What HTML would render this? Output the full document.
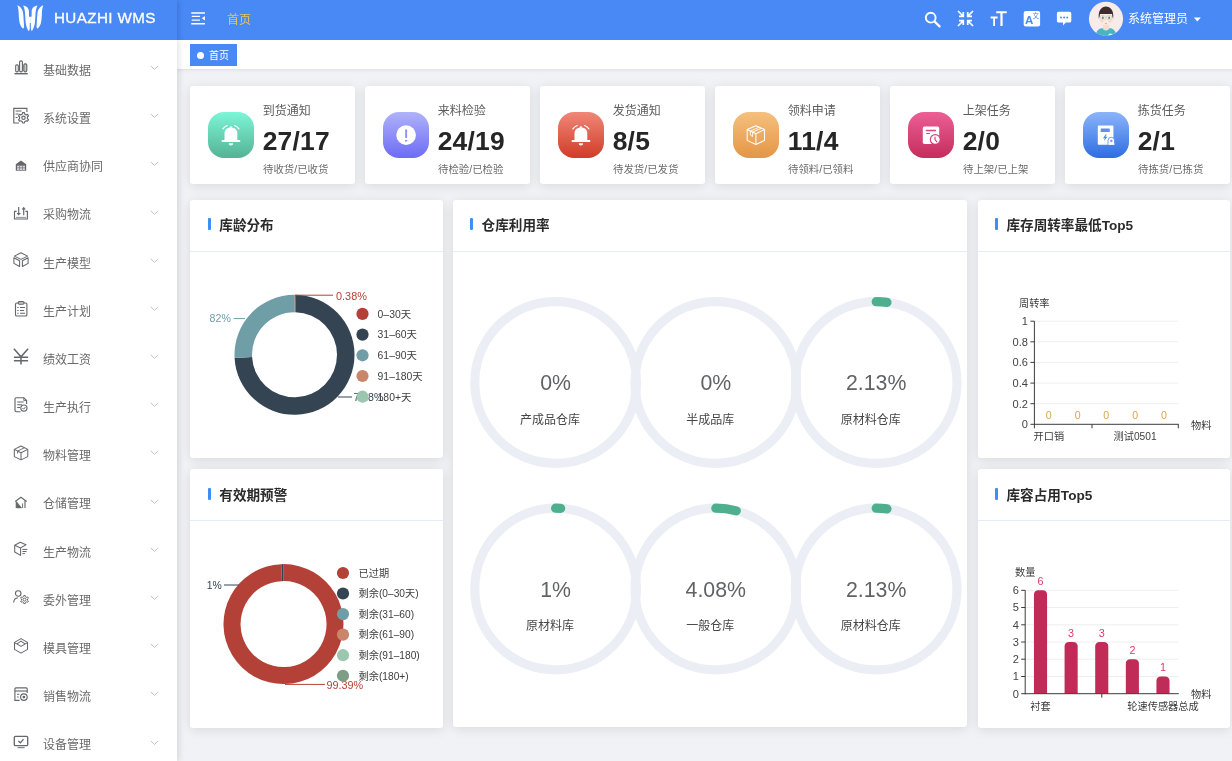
<!DOCTYPE html>
<html lang="zh-CN"><head><meta charset="utf-8"><title>HUAZHI WMS</title>
<style>
*{box-sizing:border-box;margin:0;padding:0}
html,body{width:1232px;height:761px;overflow:hidden;background:#f0f2f5;font-family:"Liberation Sans", "Noto Sans CJK SC", sans-serif;}
body{position:relative}
.abs{position:absolute}
#hdr{position:absolute;left:0;top:0;width:1232px;height:40px;background:#4989f6}
#logo{position:absolute;left:0;top:0;width:177px;height:40px;background:#4989f6;box-shadow:2px 0 5px rgba(0,25,80,.16);z-index:5;clip-path:inset(0 -12px 0 0)}
#logo .t{position:absolute;left:54px;top:0;height:40px;line-height:36px;color:#fff;font-weight:normal;-webkit-text-stroke:0.32px #fff;font-size:15.2px;letter-spacing:0.4px;white-space:nowrap}
#side{position:absolute;left:0;top:40px;width:177px;height:721px;background:#fff;box-shadow:2px 0 6px rgba(0,21,41,.12);z-index:4}
.mi{position:absolute;left:0;width:177px;height:48px;z-index:6}
.mi .tx{position:absolute;left:43px;top:0;line-height:20px;font-size:12px;color:#6a6a6a;white-space:nowrap}
.mi svg.ic{position:absolute;left:12px;top:0}
.mi svg.ch{position:absolute;left:150px;top:4.2px}
#tags{position:absolute;left:177px;top:40px;width:1055px;height:30px;background:#fff;border-bottom:1px solid #e2e4ea;box-shadow:0 1px 3px rgba(0,0,0,.05)}
#tag{position:absolute;left:189.8px;top:44px;width:47.4px;height:21.8px;background:#4989f6;color:#fff;font-size:10px;line-height:22px;white-space:nowrap}
#tag i{position:absolute;left:7.5px;top:8.2px;width:7px;height:7px;border-radius:50%;background:#fff}
#tag span{position:absolute;left:19.2px;top:1.3px}
.card{position:absolute;background:#fff;border-radius:3px;box-shadow:0 2px 12px rgba(0,0,0,.1)}
.sc{width:165px;height:98.3px;top:85.8px}
.sc .ib{position:absolute;left:17.6px;top:26px;width:46px;height:46px;border-radius:16px;overflow:hidden}
.sc .t1{position:absolute;left:72.3px;top:15.8px;font-size:12px;line-height:18px;color:#5d5d5d;white-space:nowrap}
.sc .t2{position:absolute;left:72.3px;top:40.2px;font-size:26.4px;line-height:30px;font-weight:bold;color:#262626;white-space:nowrap;letter-spacing:0.25px}
.sc .t3{position:absolute;left:72.7px;top:77.2px;font-size:10.4px;line-height:14px;color:#6b6b6b;white-space:nowrap}
.ct{position:absolute;left:0;top:0;right:0;height:52px;border-bottom:1px solid #e6ebf5}
.ct i{position:absolute;left:17.6px;top:18.9px;width:3.1px;height:11.9px;background:#3d8ef7;border-radius:1px}
.ct span{position:absolute;left:29.3px;top:16.5px;font-size:13.6px;line-height:20px;font-weight:bold;color:#2b2b2b;white-space:nowrap}
svg text{font-family:"Liberation Sans", "Noto Sans CJK SC", sans-serif}
</style></head>
<body>
<div id="hdr"></div>
<div id="logo">
<svg class="abs" style="left:0;top:0" width="60" height="40" viewBox="0 0 60 40">
<g fill="#fff"><g transform="translate(30.3 0)"><path d="M-13 5.2 C-11 5.9 -8 8.2 -7.3 12 L-6.9 16 L-6.5 22 L-6.2 27 L-7 28.8 C-9 27.5 -10.6 24.5 -11 21 L-11.5 16 C-11.6 11.5 -11.8 8 -13 5.2Z"/><path d="M-7.2 5.5 C-4.6 5.7 -1.6 7.6 -1.4 11 L-1.3 16.8 L0.1 16.8 L0.1 23.1 L-0.5 23.1 L-0.6 29 L-1.4 31.2 C-3 29.5 -4.6 25 -4.8 21 L-5.1 15.8 C-5.3 11.5 -5.6 8.5 -7.2 5.5Z"/></g><g transform="translate(30.3 0) scale(-1 1)"><path d="M-13 5.2 C-11 5.9 -8 8.2 -7.3 12 L-6.9 16 L-6.5 22 L-6.2 27 L-7 28.8 C-9 27.5 -10.6 24.5 -11 21 L-11.5 16 C-11.6 11.5 -11.8 8 -13 5.2Z"/><path d="M-7.2 5.5 C-4.6 5.7 -1.6 7.6 -1.4 11 L-1.3 16.8 L0.1 16.8 L0.1 23.1 L-0.5 23.1 L-0.6 29 L-1.4 31.2 C-3 29.5 -4.6 25 -4.8 21 L-5.1 15.8 C-5.3 11.5 -5.6 8.5 -7.2 5.5Z"/></g></g></svg>
<div class="t">HUAZHI WMS</div></div>
<svg class="abs" style="left:191px;top:12px" width="15" height="13" viewBox="0 0 15 13">
<g fill="#fff"><rect x="0.2" y="0.2" width="13.8" height="1.6" rx="0.3"/><rect x="0.7" y="3.85" width="8.3" height="1.2" rx="0.3"/><rect x="0.7" y="7.55" width="8.3" height="1.2" rx="0.3"/><rect x="0.2" y="11" width="13.8" height="1.4" rx="0.3"/><path d="M13.9 4 L13.9 8.6 L10.8 6.3Z"/></g></svg>
<div class="abs" style="left:227px;top:9.8px;font-size:12px;line-height:20px;color:#e6c560;white-space:nowrap">首页</div>
<svg class="abs" style="left:924px;top:11px" width="18" height="17" viewBox="0 0 18 17"><circle cx="6.7" cy="6.7" r="4.9" fill="none" stroke="#fff" stroke-width="1.9"/><path d="M10.4 10.4 L15.6 15.4" stroke="#fff" stroke-width="2.2" stroke-linecap="round"/></svg>
<svg class="abs" style="left:957px;top:10px" width="17" height="17" viewBox="0 0 17 17"><g fill="none" stroke="#fff" stroke-width="1.7">
<path d="M1 1 L6 6 M6.3 2 L6.3 6.3 L2 6.3"/><path d="M16 1 L11 6 M10.7 2 L10.7 6.3 L15 6.3"/><path d="M1 16 L6 11 M6.3 15 L6.3 10.7 L2 10.7"/><path d="M16 16 L11 11 M10.7 15 L10.7 10.7 L15 10.7"/></g></svg>
<svg class="abs" style="left:990px;top:10px" width="18" height="17" viewBox="0 0 18 17"><g fill="#fff">
<path d="M6.2 1.2 H16.8 V3.3 H12.6 V16 H10.4 V3.3 H6.2Z"/><path d="M0.6 6.6 H7.6 V8.4 H5 V16 H3.2 V8.4 H0.6Z"/></g></svg>
<svg class="abs" style="left:1023px;top:10px" width="18" height="18" viewBox="0 0 18 18"><rect x="0.7" y="1" width="16.4" height="15.6" rx="2" fill="#fff"/>
<text x="2" y="14" font-size="11.5" font-weight="bold" fill="#4989f6">A</text><text x="9.6" y="8.2" font-size="6.5" fill="#4989f6">文</text></svg>
<svg class="abs" style="left:1056px;top:11px" width="17" height="16" viewBox="0 0 17 16"><path d="M2.6 0.7 H13.6 Q15.3 0.7 15.3 2.4 V9.9 Q15.3 11.6 13.6 11.6 H9.8 L7 14.4 L7 11.6 H2.6 Q0.9 11.6 0.9 9.9 V2.4 Q0.9 0.7 2.6 0.7Z" fill="#fff"/>
<g fill="#4989f6"><circle cx="5" cy="6.6" r="1"/><circle cx="8.1" cy="6.6" r="1"/><circle cx="11.2" cy="6.6" r="1"/></g></svg>
<svg class="abs" style="left:1088px;top:1px" width="36" height="36" viewBox="0 0 36 36">
<defs><clipPath id="av"><circle cx="18" cy="17.8" r="17.1"/></clipPath></defs>
<circle cx="18" cy="17.8" r="17.1" fill="#f8ecea"/>
<g clip-path="url(#av)">
<path d="M7.4 36 C7.6 29.6 11.5 27 15 26.9 H21 C24.5 27 28.4 29.6 28.6 36Z" fill="#49b4c2"/>
<path d="M15.1 22.5 H20.9 V27 C20.2 29.4 15.8 29.4 15.1 27Z" fill="#f9dccd"/>
<path d="M15.1 26.9 C16 29 20 29 20.9 26.9 L21.6 27.1 C20.6 30.2 15.4 30.2 14.4 27.1Z" fill="#f4f4f2"/>
<ellipse cx="18" cy="17.6" rx="6.3" ry="6.7" fill="#fbeae0"/>
<ellipse cx="11.7" cy="18.6" rx="1" ry="1.5" fill="#fbe3d6"/><ellipse cx="24.3" cy="18.6" rx="1" ry="1.5" fill="#fbe3d6"/>
<path d="M10.8 17.4 C10 9.5 13.6 5.6 18 5.6 C22.4 5.6 26 9.5 25.2 17.4 C24.6 16.6 24.2 14.8 24.1 12.9 H11.9 C11.8 14.8 11.4 16.6 10.8 17.4Z" fill="#3f2d2d"/>
<ellipse cx="13.8" cy="20.4" rx="1.5" ry="1" fill="#f6c9c0" opacity="0.7"/><ellipse cx="22.2" cy="20.4" rx="1.5" ry="1" fill="#f6c9c0" opacity="0.7"/>
<g fill="#f4f5ee" stroke="#b9bdb0" stroke-width="0.5"><rect x="12.3" y="14.6" width="4.9" height="4.2" rx="1.3"/><rect x="18.8" y="14.6" width="4.9" height="4.2" rx="1.3"/></g>
<path d="M17.2 16.2 H18.8" stroke="#b9bdb0" stroke-width="0.5"/>
<rect x="13.8" y="15.6" width="2" height="2.4" rx="0.8" fill="#6d675c" opacity="0.8"/><rect x="20.2" y="15.6" width="2" height="2.4" rx="0.8" fill="#6d675c" opacity="0.8"/>
<path d="M16.9 22.4 Q18 23.3 19.1 22.4" stroke="#e79f98" stroke-width="0.9" fill="none"/>
<rect x="20.6" y="32.8" width="3.6" height="1.2" rx="0.5" fill="#e9f7f8"/>
</g></svg>
<div class="abs" style="left:1128px;top:8.7px;font-size:12px;line-height:20px;color:#fff;white-space:nowrap">系统管理员</div>
<svg class="abs" style="left:1193px;top:17px" width="9" height="5" viewBox="0 0 9 5"><path d="M0.8 0.6 H7.8 L4.3 4.4Z" fill="#fff"/></svg>
<div id="side"></div>
<div class="mi" style="top:60.95px"><svg class="ic" width="19" height="20" viewBox="0 0 19 20" style="top:-4.15px"><g fill="none" stroke="#65676b" stroke-width="1.15"><rect x="3.7" y="7.8" width="2.6" height="7" rx="1"/><rect x="7.6" y="3.8" width="2.8" height="11" rx="1.3"/><rect x="11.8" y="6.8" width="3" height="8" rx="1.2" fill="#c4c5c8"/><path d="M2.4 16.7 H15.8" stroke-width="1.4"/></g></svg><div class="tx">基础数据</div><svg class="ch" width="9" height="6" viewBox="0 0 9 6"><path d="M0.8 0.9 L4.5 4.5 L8.2 0.9" fill="none" stroke="#b9bcc4" stroke-width="0.9"/></svg></div>
<div class="mi" style="top:109.12px"><svg class="ic" width="19" height="20" viewBox="0 0 19 20" style="top:-4.17px"><g fill="none" stroke="#65676b" stroke-width="1.15"><path d="M14.9 7 V3.3 H1.8 V18 H7"/><path d="M3.6 6 H9.6 M3.6 9 H6.4 M3.6 12.4 H5.6" stroke-width="1.05"/><path d="M10.35 8.97 L10.56 7.58 L12.44 7.58 L12.65 8.97 L14.24 9.89 L15.55 9.38 L16.49 11.01 L15.39 11.88 L15.39 13.72 L16.49 14.59 L15.55 16.22 L14.24 15.71 L12.65 16.63 L12.44 18.02 L10.56 18.02 L10.35 16.63 L8.76 15.71 L7.45 16.22 L6.51 14.59 L7.61 13.72 L7.61 11.88 L6.51 11.01 L7.45 9.38 L8.76 9.89Z" stroke-linejoin="round"/><circle cx="11.5" cy="12.8" r="1.7"/></g></svg><div class="tx">系统设置</div><svg class="ch" width="9" height="6" viewBox="0 0 9 6"><path d="M0.8 0.9 L4.5 4.5 L8.2 0.9" fill="none" stroke="#b9bcc4" stroke-width="0.9"/></svg></div>
<div class="mi" style="top:157.29px"><svg class="ic" width="19" height="20" viewBox="0 0 19 20" style="top:-4.19px"><g fill="#65676b"><path d="M8.95 7.6 L14.2 11.3 V17.7 H3.8 V11.3Z M5.1 12.2 V17.7 H12.9 V12.2Z" fill-rule="evenodd"/><path d="M5.1 12.2 H12.9 V13 H5.1Z M5.1 14.5 H12.9 V15.2 H5.1Z M5.1 16.9 H12.9 V17.7 H5.1Z M7.3 12.2 H8 V17.7 H7.3Z M10 12.2 H10.7 V17.7 H10Z" opacity="0.85"/><path d="M5.1 12.2 H12.9 V17.7 H5.1Z" opacity="0.28"/></g></svg><div class="tx">供应商协同</div><svg class="ch" width="9" height="6" viewBox="0 0 9 6"><path d="M0.8 0.9 L4.5 4.5 L8.2 0.9" fill="none" stroke="#b9bcc4" stroke-width="0.9"/></svg></div>
<div class="mi" style="top:205.46px"><svg class="ic" width="19" height="20" viewBox="0 0 19 20" style="top:-4.21px"><g fill="none" stroke="#65676b" stroke-width="1.15"><path d="M4.6 10.3 H2.5 V18 H15.4 V10.3 H13.4"/><path d="M4 16.4 H14" stroke-width="0.9" opacity="0.8"/><path d="M6.7 6 V12.5 M11.7 14.2 V8"/><path d="M4.5 12 H8.9 L6.7 14.6Z M9.6 8.4 H13.8 L11.7 5.8Z" fill="#65676b" stroke="none"/></g></svg><div class="tx">采购物流</div><svg class="ch" width="9" height="6" viewBox="0 0 9 6"><path d="M0.8 0.9 L4.5 4.5 L8.2 0.9" fill="none" stroke="#b9bcc4" stroke-width="0.9"/></svg></div>
<div class="mi" style="top:253.63px"><svg class="ic" width="19" height="20" viewBox="0 0 19 20" style="top:-4.23px"><g fill="none" stroke="#65676b" stroke-width="1.05" stroke-linejoin="round"><path d="M9 3.7 L15.6 7.1 L9 10.4 L2.4 7.1Z"/><path d="M1.9 8.7 L7.6 11.7 V17.5 L1.9 14.4Z"/><path d="M10.4 11.7 L16.1 8.7 V14.4 L10.4 17.5Z"/></g></svg><div class="tx">生产模型</div><svg class="ch" width="9" height="6" viewBox="0 0 9 6"><path d="M0.8 0.9 L4.5 4.5 L8.2 0.9" fill="none" stroke="#b9bcc4" stroke-width="0.9"/></svg></div>
<div class="mi" style="top:301.80px"><svg class="ic" width="19" height="20" viewBox="0 0 19 20" style="top:-4.25px"><g fill="none" stroke="#65676b" stroke-width="1.15"><rect x="3.5" y="5" width="11.4" height="13" rx="1.3"/><rect x="6.2" y="3.6" width="5.8" height="2.6" rx="1.1" fill="#cfd0d2"/><path d="M8 9.4 H13 M8 12.4 H12 M8 15.2 H13" stroke-width="1.05"/><path d="M5.3 9.4 H6.6 M5.3 12.4 H6.6 M5.3 15.2 H6.6" stroke-width="1.05"/></g></svg><div class="tx">生产计划</div><svg class="ch" width="9" height="6" viewBox="0 0 9 6"><path d="M0.8 0.9 L4.5 4.5 L8.2 0.9" fill="none" stroke="#b9bcc4" stroke-width="0.9"/></svg></div>
<div class="mi" style="top:349.97px"><svg class="ic" width="19" height="20" viewBox="0 0 19 20" style="top:-4.27px"><g fill="none" stroke="#65676b" stroke-width="1.5"><path d="M1.9 2.8 L9 10.8 L16.1 2.8 M9 10.8 V18.6 M1.9 11.3 H16.1 M1.9 14.7 H16.1"/></g></svg><div class="tx">绩效工资</div><svg class="ch" width="9" height="6" viewBox="0 0 9 6"><path d="M0.8 0.9 L4.5 4.5 L8.2 0.9" fill="none" stroke="#b9bcc4" stroke-width="0.9"/></svg></div>
<div class="mi" style="top:398.14px"><svg class="ic" width="19" height="20" viewBox="0 0 19 20" style="top:-4.29px"><g fill="none" stroke="#65676b" stroke-width="1.15"><path d="M14.6 10 V6.6 L11.8 3.7 H4.4 Q3 3.7 3 5.1 V16.3 Q3 17.7 4.4 17.7 H8.6"/><path d="M11.8 3.7 V6.6 H14.6" stroke-width="0.9"/><path d="M5.2 8 H11.6 M5.2 10.7 H10 M5.2 13.4 H8" stroke-width="1.05"/><circle cx="11.9" cy="14.1" r="3.1"/><path d="M10.5 14.1 L11.6 15.2 L13.4 13.1" stroke-width="1"/></g></svg><div class="tx">生产执行</div><svg class="ch" width="9" height="6" viewBox="0 0 9 6"><path d="M0.8 0.9 L4.5 4.5 L8.2 0.9" fill="none" stroke="#b9bcc4" stroke-width="0.9"/></svg></div>
<div class="mi" style="top:446.31px"><svg class="ic" width="19" height="20" viewBox="0 0 19 20" style="top:-4.31px"><g fill="none" stroke="#65676b" stroke-width="1.05" stroke-linejoin="round"><path d="M9 4 L15.8 7.4 V14.6 L9 17.9 L2.3 14.6 V7.4Z"/><path d="M2.3 7.4 L9 10.8 L15.8 7.4 M9 10.8 V17.9"/><path d="M12.6 5.7 L5.6 9.1 V11.6" stroke-width="0.95"/></g></svg><div class="tx">物料管理</div><svg class="ch" width="9" height="6" viewBox="0 0 9 6"><path d="M0.8 0.9 L4.5 4.5 L8.2 0.9" fill="none" stroke="#b9bcc4" stroke-width="0.9"/></svg></div>
<div class="mi" style="top:494.48px"><svg class="ic" width="19" height="20" viewBox="0 0 19 20" style="top:-4.33px"><g fill="none" stroke="#65676b" stroke-width="1.15"><path d="M3.2 11.5 L8.9 7.3 L14.7 11.5" stroke-linejoin="round"/><path d="M13 10.6 V18.1"/><path d="M4.3 11.5 V18"/><path d="M4.6 11.8 L9.6 17.9 H4.6Z" fill="#65676b" stroke-width="0.6"/><path d="M10.6 13.4 V18.1" stroke-width="0.9"/></g></svg><div class="tx">仓储管理</div><svg class="ch" width="9" height="6" viewBox="0 0 9 6"><path d="M0.8 0.9 L4.5 4.5 L8.2 0.9" fill="none" stroke="#b9bcc4" stroke-width="0.9"/></svg></div>
<div class="mi" style="top:542.65px"><svg class="ic" width="19" height="20" viewBox="0 0 19 20" style="top:-4.35px"><g fill="none" stroke="#65676b" stroke-width="1.05" stroke-linejoin="round"><path d="M8.3 4.3 L14 6.8 L8.6 9.9 L2.7 7.2Z"/><path d="M2.7 7.2 V14 L8.6 17.4 V9.9"/><path d="M10.4 11.4 H15.4 M10.4 13.5 H14.6 M10.4 15.6 H13" stroke-width="1"/></g></svg><div class="tx">生产物流</div><svg class="ch" width="9" height="6" viewBox="0 0 9 6"><path d="M0.8 0.9 L4.5 4.5 L8.2 0.9" fill="none" stroke="#b9bcc4" stroke-width="0.9"/></svg></div>
<div class="mi" style="top:590.82px"><svg class="ic" width="19" height="20" viewBox="0 0 19 20" style="top:-4.37px"><g fill="none" stroke="#65676b" stroke-width="1.1"><circle cx="6.2" cy="7.5" r="2.75"/><path d="M1.7 16.6 C1.8 13.4 3.4 11.9 6 11.7"/><path d="M11.61 10.63 L11.77 9.57 L13.23 9.57 L13.39 10.63 L14.62 11.34 L15.63 10.95 L16.36 12.21 L15.52 12.89 L15.52 14.31 L16.36 14.99 L15.63 16.25 L14.62 15.86 L13.39 16.57 L13.23 17.63 L11.77 17.63 L11.61 16.57 L10.38 15.86 L9.37 16.25 L8.64 14.99 L9.48 14.31 L9.48 12.89 L8.64 12.21 L9.37 10.95 L10.38 11.34Z" stroke-linejoin="round" stroke-width="1"/><circle cx="12.5" cy="13.6" r="1.5" stroke-width="1"/></g></svg><div class="tx">委外管理</div><svg class="ch" width="9" height="6" viewBox="0 0 9 6"><path d="M0.8 0.9 L4.5 4.5 L8.2 0.9" fill="none" stroke="#b9bcc4" stroke-width="0.9"/></svg></div>
<div class="mi" style="top:638.99px"><svg class="ic" width="19" height="20" viewBox="0 0 19 20" style="top:-4.39px"><g fill="none" stroke="#65676b" stroke-width="1.05" stroke-linejoin="round"><path d="M9 3.6 L15.5 7.4 V14.4 L9 18.1 L2.5 14.4 V7.4Z"/><path d="M2.6 7.6 L9 11.4 L15.4 7.6"/><path d="M5 8.9 L9 6.1 L13 8.9"/></g></svg><div class="tx">模具管理</div><svg class="ch" width="9" height="6" viewBox="0 0 9 6"><path d="M0.8 0.9 L4.5 4.5 L8.2 0.9" fill="none" stroke="#b9bcc4" stroke-width="0.9"/></svg></div>
<div class="mi" style="top:687.16px"><svg class="ic" width="19" height="20" viewBox="0 0 19 20" style="top:-4.41px"><g fill="none" stroke="#65676b" stroke-width="1.15"><path d="M15.2 10 V5.9 Q15.2 4.8 14.1 4.8 H4 Q2.9 4.8 2.9 5.9 V17.4 H7.6"/><path d="M2.9 8 H15.2"/><path d="M5 11.2 H7.4 M5 14 H6.6" stroke-width="1.05"/><circle cx="11.9" cy="14.1" r="3.3"/><circle cx="11.9" cy="14.1" r="1.4" fill="#65676b" stroke="none"/></g></svg><div class="tx">销售物流</div><svg class="ch" width="9" height="6" viewBox="0 0 9 6"><path d="M0.8 0.9 L4.5 4.5 L8.2 0.9" fill="none" stroke="#b9bcc4" stroke-width="0.9"/></svg></div>
<div class="mi" style="top:735.33px"><svg class="ic" width="19" height="20" viewBox="0 0 19 20" style="top:-4.43px"><g fill="none" stroke="#65676b" stroke-width="1.35"><rect x="2.3" y="5.4" width="13.4" height="9.2" rx="1.2"/><path d="M5.6 16.6 H12.6" stroke-width="1.2" opacity="0.8"/><path d="M6.3 10 L8.4 11.8 L11.5 8.2" stroke-width="1.3"/></g></svg><div class="tx">设备管理</div><svg class="ch" width="9" height="6" viewBox="0 0 9 6"><path d="M0.8 0.9 L4.5 4.5 L8.2 0.9" fill="none" stroke="#b9bcc4" stroke-width="0.9"/></svg></div>
<div id="tags"></div>
<div id="tag"><i></i><span>首页</span></div>
<div class="card sc" style="left:190.4px"><div class="ib" style="background:linear-gradient(180deg,#7df5d7 0%,#54b394 100%)"><svg class="abs" style="left:0;top:0" width="46" height="46" viewBox="0 0 46 46"><g fill="#fff"><path d="M16.5 28.3 V21.6 C16.5 17.6 19.4 15.6 22.9 15.6 C26.4 15.6 29.3 17.6 29.3 21.6 V28.3Z"/><circle cx="22.9" cy="15.3" r="1.1"/><rect x="13.7" y="28" width="18.5" height="2.1" rx="0.4"/><path d="M20.7 31.2 H25.1 A2.2 2.2 0 0 1 20.7 31.2Z"/></g><g fill="none" stroke="#fff" stroke-width="1.2" stroke-linecap="round"><path d="M14.9 16.9 Q16.6 14.6 19.2 13.5"/><path d="M30.9 16.9 Q29.2 14.6 26.6 13.5"/></g></svg></div><div class="t1">到货通知</div><div class="t2">27/17</div><div class="t3">待收货/已收货</div></div>
<div class="card sc" style="left:365.4px"><div class="ib" style="background:linear-gradient(180deg,#b0b2fa 0%,#6c6cf5 100%)"><svg class="abs" style="left:0;top:0" width="46" height="46" viewBox="0 0 46 46"><circle cx="23.1" cy="23.1" r="9.85" fill="#fff"/><rect x="22.2" y="17.3" width="1.9" height="8.8" rx="0.9" fill="#8f90f7"/><ellipse cx="23.15" cy="28.7" rx="1.25" ry="0.85" fill="#8f90f7"/></svg></div><div class="t1">来料检验</div><div class="t2">24/19</div><div class="t3">待检验/已检验</div></div>
<div class="card sc" style="left:540.4px"><div class="ib" style="background:linear-gradient(180deg,#f08778 0%,#d03c28 100%)"><svg class="abs" style="left:0;top:0" width="46" height="46" viewBox="0 0 46 46"><g fill="#fff"><path d="M16.5 28.3 V21.6 C16.5 17.6 19.4 15.6 22.9 15.6 C26.4 15.6 29.3 17.6 29.3 21.6 V28.3Z"/><circle cx="22.9" cy="15.3" r="1.1"/><rect x="13.7" y="28" width="18.5" height="2.1" rx="0.4"/><path d="M20.7 31.2 H25.1 A2.2 2.2 0 0 1 20.7 31.2Z"/></g><g fill="none" stroke="#fff" stroke-width="1.2" stroke-linecap="round"><path d="M14.9 16.9 Q16.6 14.6 19.2 13.5"/><path d="M30.9 16.9 Q29.2 14.6 26.6 13.5"/></g></svg></div><div class="t1">发货通知</div><div class="t2">8/5</div><div class="t3">待发货/已发货</div></div>
<div class="card sc" style="left:715.4px"><div class="ib" style="background:linear-gradient(180deg,#f5c07d 0%,#e49646 100%)"><svg class="abs" style="left:0;top:0" width="46" height="46" viewBox="0 0 46 46"><g fill="none" stroke="#fff" stroke-width="1.05" stroke-linejoin="round"><path d="M22.9 13.7 L31.5 17.5 V28.4 L22.9 32.5 L14.2 28.4 V17.5Z"/><path d="M14.2 17.5 L22.9 21.7 L31.5 17.5 M22.9 21.7 V32.5"/><path d="M26.2 15.2 L17.4 19.1 V23 M28.4 16.2 L19.6 20.2 V24.6 L17.4 23" stroke-width="0.9"/></g></svg></div><div class="t1">领料申请</div><div class="t2">11/4</div><div class="t3">待领料/已领料</div></div>
<div class="card sc" style="left:890.4px"><div class="ib" style="background:linear-gradient(180deg,#ec5f96 0%,#c42d5c 100%)"><svg class="abs" style="left:0;top:0" width="46" height="46" viewBox="0 0 46 46"><defs><mask id="mk1"><rect width="46" height="46" fill="#fff"/><circle cx="27.3" cy="27.5" r="5.5" fill="#000"/></mask></defs><rect x="14.8" y="14.4" width="16.4" height="17.5" rx="1.6" fill="#fff" mask="url(#mk1)"/><rect x="17.7" y="17.7" width="10.3" height="1.5" rx="0.5" fill="#dc4a7d"/><rect x="18.1" y="20.9" width="4" height="1" rx="0.4" fill="#dc4a7d"/><circle cx="27.3" cy="27.5" r="4.35" fill="#fff"/><path d="M27 25 V27.6 L28.9 29.8" stroke="#d03c6c" stroke-width="1.1" fill="none" stroke-linecap="round"/></svg></div><div class="t1">上架任务</div><div class="t2">2/0</div><div class="t3">待上架/已上架</div></div>
<div class="card sc" style="left:1065.4px"><div class="ib" style="background:linear-gradient(180deg,#8cb4fa 0%,#2d6ee1 100%)"><svg class="abs" style="left:0;top:0" width="46" height="46" viewBox="0 0 46 46"><rect x="14.8" y="13.6" width="15.6" height="19.1" rx="0.8" fill="#fff"/><rect x="17.7" y="16.6" width="9.1" height="3.5" rx="0.3" fill="#5c92ef"/><path d="M22.6 22.4 L20 26.2 H21.9 L20.8 29.2 L24.4 24.8 H22.4 L23.8 22.4Z" fill="#4f88ec"/><path d="M25 32.9 V28.6 A3.3 3.3 0 0 1 31.6 28.6 V32.9Z" fill="#fff" stroke="#4a82e8" stroke-width="0.8"/><path d="M28.3 27.6 V30.2 M27 28.9 H29.6" stroke="#4a82e8" stroke-width="0.8"/><rect x="25.4" y="31.6" width="6" height="1.2" fill="#fff"/></svg></div><div class="t1">拣货任务</div><div class="t2">2/1</div><div class="t3">待拣货/已拣货</div></div>
<div class="card" style="left:190.3px;top:199.5px;width:252.5px;height:258.4px"><div class="ct"><i style="margin-left:-0.3px"></i><span style="margin-left:-0.3px">库龄分布</span></div></div>
<div class="card" style="left:190.3px;top:469.3px;width:252.5px;height:258.3px"><div class="ct"><i style="margin-left:-0.3px"></i><span style="margin-left:-0.3px">有效期预警</span></div></div>
<div class="card" style="left:453.0px;top:199.5px;width:514.2px;height:527.5px"><div class="ct"><i style="margin-left:-0.7px"></i><span style="margin-left:-0.7px">仓库利用率</span></div></div>
<div class="card" style="left:978.0px;top:199.5px;width:251.5px;height:258.4px"><div class="ct"><i style="margin-left:-0.8px"></i><span style="margin-left:-0.8px">库存周转率最低Top5</span></div></div>
<div class="card" style="left:978.0px;top:469.3px;width:251.5px;height:258.3px"><div class="ct"><i style="margin-left:-0.8px"></i><span style="margin-left:-0.8px">库容占用Top5</span></div></div>
<svg class="abs" style="left:0;top:0" width="1232" height="761" viewBox="0 0 1232 761">
<path d="M294.50 294.80 A60.00 60.00 0 0 1 295.93 294.82 L295.51 312.31 A42.50 42.50 0 0 0 294.50 312.30 Z" fill="#b34138"/>
<path d="M295.93 294.82 A60.00 60.00 0 1 1 234.58 357.89 L252.06 356.99 A42.50 42.50 0 1 0 295.51 312.31 Z" fill="#344453"/>
<path d="M234.58 357.89 A60.00 60.00 0 0 1 294.50 294.80 L294.50 312.30 A42.50 42.50 0 0 0 252.06 356.99 Z" fill="#709ea7"/>
<path d="M295.3 295.2 H333" stroke="#b34138" stroke-width="1" fill="none"/>
<text x="336" y="299.5" font-size="10.9" fill="#b34138">0.38%</text>
<path d="M233.6 318.6 H245" stroke="#709ea7" stroke-width="1" fill="none"/>
<text x="230.8" y="322.4" font-size="10.6" fill="#709ea7" text-anchor="end">82%</text>
<path d="M338 397 H352" stroke="#344453" stroke-width="1" fill="none"/>
<text x="353.4" y="400.8" font-size="10.6" fill="#344453">73.8%</text>
<circle cx="362.5" cy="313.9" r="6.1" fill="#b34138"/>
<text x="377.6" y="317.7" font-size="10.4" fill="#404040">0–30天</text>
<circle cx="362.5" cy="334.6" r="6.1" fill="#344453"/>
<text x="377.6" y="338.4" font-size="10.4" fill="#404040">31–60天</text>
<circle cx="362.5" cy="355.3" r="6.1" fill="#709ea7"/>
<text x="377.6" y="359.1" font-size="10.4" fill="#404040">61–90天</text>
<circle cx="362.5" cy="376.0" r="6.1" fill="#c9866b"/>
<text x="377.6" y="379.8" font-size="10.4" fill="#404040">91–180天</text>
<circle cx="362.5" cy="396.7" r="6.1" fill="#9cc6b0"/>
<text x="377.6" y="400.5" font-size="10.4" fill="#404040">180+天</text>
<path d="M283.60 564.10 A60.00 60.00 0 1 1 281.30 564.14 L281.95 581.13 A43.00 43.00 0 1 0 283.60 581.10 Z" fill="#b34138"/>
<path d="M281.30 564.14 A60.00 60.00 0 0 1 283.60 564.10 L283.60 581.10 A43.00 43.00 0 0 0 281.95 581.13 Z" fill="#344453"/>
<path d="M224 585 H239" stroke="#344453" stroke-width="1" fill="none"/>
<text x="221.8" y="589.2" font-size="10.4" fill="#344453" text-anchor="end">1%</text>
<path d="M285 684.4 H325" stroke="#b34138" stroke-width="1" fill="none"/>
<text x="326.6" y="689" font-size="10.8" fill="#b34138">99.39%</text>
<circle cx="343" cy="573.0" r="6.1" fill="#b34138"/>
<text x="358.6" y="576.8" font-size="10.2" fill="#404040">已过期</text>
<circle cx="343" cy="593.5" r="6.1" fill="#344453"/>
<text x="358.6" y="597.3" font-size="10.2" fill="#404040">剩余(0–30天)</text>
<circle cx="343" cy="614.1" r="6.1" fill="#709ea7"/>
<text x="358.6" y="617.9" font-size="10.2" fill="#404040">剩余(31–60)</text>
<circle cx="343" cy="634.6" r="6.1" fill="#c9866b"/>
<text x="358.6" y="638.4" font-size="10.2" fill="#404040">剩余(61–90)</text>
<circle cx="343" cy="655.2" r="6.1" fill="#9cc6b0"/>
<text x="358.6" y="659.0" font-size="10.2" fill="#404040">剩余(91–180)</text>
<circle cx="343" cy="675.8" r="6.1" fill="#7d9e85"/>
<text x="358.6" y="679.5" font-size="10.2" fill="#404040">剩余(180+)</text>
<circle cx="555.6" cy="382.5" r="80.8" fill="none" stroke="#eceef5" stroke-width="9.2"/>
<text x="555.6" y="390.0" font-size="21.3" fill="#606266" text-anchor="middle">0%</text>
<text x="550.1" y="423.5" font-size="12" fill="#454545" text-anchor="middle">产成品仓库</text>
<circle cx="715.8" cy="382.5" r="80.8" fill="none" stroke="#eceef5" stroke-width="9.2"/>
<text x="715.8" y="390.0" font-size="21.3" fill="#606266" text-anchor="middle">0%</text>
<text x="710.3" y="423.5" font-size="12" fill="#454545" text-anchor="middle">半成品库</text>
<circle cx="876.2" cy="382.5" r="80.8" fill="none" stroke="#eceef5" stroke-width="9.2"/>
<path d="M876.20 301.70 A80.8 80.8 0 0 1 886.98 302.42" fill="none" stroke="#4eaf8f" stroke-width="9.2" stroke-linecap="round"/>
<text x="876.2" y="390.0" font-size="21.3" fill="#606266" text-anchor="middle">2.13%</text>
<text x="870.7" y="423.5" font-size="12" fill="#454545" text-anchor="middle">原材料仓库</text>
<circle cx="555.6" cy="589.0" r="80.8" fill="none" stroke="#eceef5" stroke-width="9.2"/>
<path d="M555.60 508.20 A80.8 80.8 0 0 1 560.67 508.36" fill="none" stroke="#4eaf8f" stroke-width="9.2" stroke-linecap="round"/>
<text x="555.6" y="596.5" font-size="21.3" fill="#606266" text-anchor="middle">1%</text>
<text x="550.1" y="630.0" font-size="12" fill="#454545" text-anchor="middle">原材料库</text>
<circle cx="715.8" cy="589.0" r="80.8" fill="none" stroke="#eceef5" stroke-width="9.2"/>
<path d="M715.80 508.20 A80.8 80.8 0 0 1 736.29 510.84" fill="none" stroke="#4eaf8f" stroke-width="9.2" stroke-linecap="round"/>
<text x="715.8" y="596.5" font-size="21.3" fill="#606266" text-anchor="middle">4.08%</text>
<text x="710.3" y="630.0" font-size="12" fill="#454545" text-anchor="middle">一般仓库</text>
<circle cx="876.2" cy="589.0" r="80.8" fill="none" stroke="#eceef5" stroke-width="9.2"/>
<path d="M876.20 508.20 A80.8 80.8 0 0 1 886.98 508.92" fill="none" stroke="#4eaf8f" stroke-width="9.2" stroke-linecap="round"/>
<text x="876.2" y="596.5" font-size="21.3" fill="#606266" text-anchor="middle">2.13%</text>
<text x="870.7" y="630.0" font-size="12" fill="#454545" text-anchor="middle">原材料仓库</text>
<path d="M1034.4 403.7 H1178.3" stroke="#eeeeee" stroke-width="1"/>
<path d="M1034.4 383.1 H1178.3" stroke="#eeeeee" stroke-width="1"/>
<path d="M1034.4 362.4 H1178.3" stroke="#eeeeee" stroke-width="1"/>
<path d="M1034.4 341.8 H1178.3" stroke="#eeeeee" stroke-width="1"/>
<path d="M1034.4 321.2 H1178.3" stroke="#eeeeee" stroke-width="1"/>
<path d="M1034.4 321.2 V424.8" stroke="#3c3c3c" stroke-width="1"/>
<path d="M1033.9 424.3 H1178.8" stroke="#3c3c3c" stroke-width="1"/>
<path d="M1030.4 424.3 H1034.4" stroke="#3c3c3c" stroke-width="1"/>
<text x="1028.0" y="428.2" font-size="11.1" fill="#444" text-anchor="end">0</text>
<path d="M1030.4 403.7 H1034.4" stroke="#3c3c3c" stroke-width="1"/>
<text x="1028.0" y="407.6" font-size="11.1" fill="#444" text-anchor="end">0.2</text>
<path d="M1030.4 383.1 H1034.4" stroke="#3c3c3c" stroke-width="1"/>
<text x="1028.0" y="387.0" font-size="11.1" fill="#444" text-anchor="end">0.4</text>
<path d="M1030.4 362.4 H1034.4" stroke="#3c3c3c" stroke-width="1"/>
<text x="1028.0" y="366.3" font-size="11.1" fill="#444" text-anchor="end">0.6</text>
<path d="M1030.4 341.8 H1034.4" stroke="#3c3c3c" stroke-width="1"/>
<text x="1028.0" y="345.7" font-size="11.1" fill="#444" text-anchor="end">0.8</text>
<path d="M1030.4 321.2 H1034.4" stroke="#3c3c3c" stroke-width="1"/>
<text x="1028.0" y="325.1" font-size="11.1" fill="#444" text-anchor="end">1</text>
<path d="M1034.4 424.3 V428.3" stroke="#3c3c3c" stroke-width="1"/>
<path d="M1092.0 424.3 V428.3" stroke="#3c3c3c" stroke-width="1"/>
<path d="M1178.3 424.3 V428.3" stroke="#3c3c3c" stroke-width="1"/>
<text x="1019" y="307.2" font-size="10.2" fill="#3c3c3c">周转率</text>
<text x="1191" y="428.6" font-size="10.2" fill="#3c3c3c">物料</text>
<text x="1048.8" y="418.9" font-size="10.6" fill="#dca550" text-anchor="middle">0</text>
<text x="1077.6" y="418.9" font-size="10.6" fill="#dca550" text-anchor="middle">0</text>
<text x="1106.3" y="418.9" font-size="10.6" fill="#dca550" text-anchor="middle">0</text>
<text x="1135.1" y="418.9" font-size="10.6" fill="#dca550" text-anchor="middle">0</text>
<text x="1163.9" y="418.9" font-size="10.6" fill="#dca550" text-anchor="middle">0</text>
<text x="1048.8" y="440" font-size="10.2" fill="#3c3c3c" text-anchor="middle">开口销</text>
<text x="1135.1" y="440" font-size="10.2" fill="#3c3c3c" text-anchor="middle">测试0501</text>
<path d="M1025.2 676.5 H1178.3" stroke="#eeeeee" stroke-width="1"/>
<path d="M1025.2 659.2 H1178.3" stroke="#eeeeee" stroke-width="1"/>
<path d="M1025.2 642.0 H1178.3" stroke="#eeeeee" stroke-width="1"/>
<path d="M1025.2 624.8 H1178.3" stroke="#eeeeee" stroke-width="1"/>
<path d="M1025.2 607.5 H1178.3" stroke="#eeeeee" stroke-width="1"/>
<path d="M1025.2 590.3 H1178.3" stroke="#eeeeee" stroke-width="1"/>
<path d="M1033.96 693.70 V594.90 Q1033.96 590.30 1038.56 590.30 H1042.46 Q1047.06 590.30 1047.06 594.90 V693.70 Z" fill="#c12b58"/>
<text x="1040.5" y="585.1" font-size="10.8" fill="#d63c68" text-anchor="middle">6</text>
<path d="M1064.58 693.70 V646.60 Q1064.58 642.00 1069.18 642.00 H1073.08 Q1077.68 642.00 1077.68 646.60 V693.70 Z" fill="#c12b58"/>
<text x="1071.1" y="636.8" font-size="10.8" fill="#d63c68" text-anchor="middle">3</text>
<path d="M1095.20 693.70 V646.60 Q1095.20 642.00 1099.80 642.00 H1103.70 Q1108.30 642.00 1108.30 646.60 V693.70 Z" fill="#c12b58"/>
<text x="1101.8" y="636.8" font-size="10.8" fill="#d63c68" text-anchor="middle">3</text>
<path d="M1125.82 693.70 V663.83 Q1125.82 659.23 1130.42 659.23 H1134.32 Q1138.92 659.23 1138.92 663.83 V693.70 Z" fill="#c12b58"/>
<text x="1132.4" y="654.0" font-size="10.8" fill="#d63c68" text-anchor="middle">2</text>
<path d="M1156.44 693.70 V681.07 Q1156.44 676.47 1161.04 676.47 H1164.94 Q1169.54 676.47 1169.54 681.07 V693.70 Z" fill="#c12b58"/>
<text x="1163.0" y="671.3" font-size="10.8" fill="#d63c68" text-anchor="middle">1</text>
<path d="M1025.2 590.3 V694.2" stroke="#3c3c3c" stroke-width="1"/>
<path d="M1024.7 693.7 H1178.8" stroke="#3c3c3c" stroke-width="1"/>
<path d="M1021.2 693.7 H1025.2" stroke="#3c3c3c" stroke-width="1"/>
<text x="1018.8" y="697.6" font-size="11.1" fill="#444" text-anchor="end">0</text>
<path d="M1021.2 676.5 H1025.2" stroke="#3c3c3c" stroke-width="1"/>
<text x="1018.8" y="680.4" font-size="11.1" fill="#444" text-anchor="end">1</text>
<path d="M1021.2 659.2 H1025.2" stroke="#3c3c3c" stroke-width="1"/>
<text x="1018.8" y="663.1" font-size="11.1" fill="#444" text-anchor="end">2</text>
<path d="M1021.2 642.0 H1025.2" stroke="#3c3c3c" stroke-width="1"/>
<text x="1018.8" y="645.9" font-size="11.1" fill="#444" text-anchor="end">3</text>
<path d="M1021.2 624.8 H1025.2" stroke="#3c3c3c" stroke-width="1"/>
<text x="1018.8" y="628.7" font-size="11.1" fill="#444" text-anchor="end">4</text>
<path d="M1021.2 607.5 H1025.2" stroke="#3c3c3c" stroke-width="1"/>
<text x="1018.8" y="611.4" font-size="11.1" fill="#444" text-anchor="end">5</text>
<path d="M1021.2 590.3 H1025.2" stroke="#3c3c3c" stroke-width="1"/>
<text x="1018.8" y="594.2" font-size="11.1" fill="#444" text-anchor="end">6</text>
<path d="M1101.8 693.7 V697.7" stroke="#3c3c3c" stroke-width="1"/>
<text x="1015" y="576" font-size="10.2" fill="#3c3c3c">数量</text>
<text x="1191" y="697.6" font-size="10.2" fill="#3c3c3c">物料</text>
<text x="1040.5" y="710" font-size="10.2" fill="#3c3c3c" text-anchor="middle">衬套</text>
<text x="1163.0" y="710" font-size="10.2" fill="#3c3c3c" text-anchor="middle">轮速传感器总成</text>
</svg>
</body></html>
